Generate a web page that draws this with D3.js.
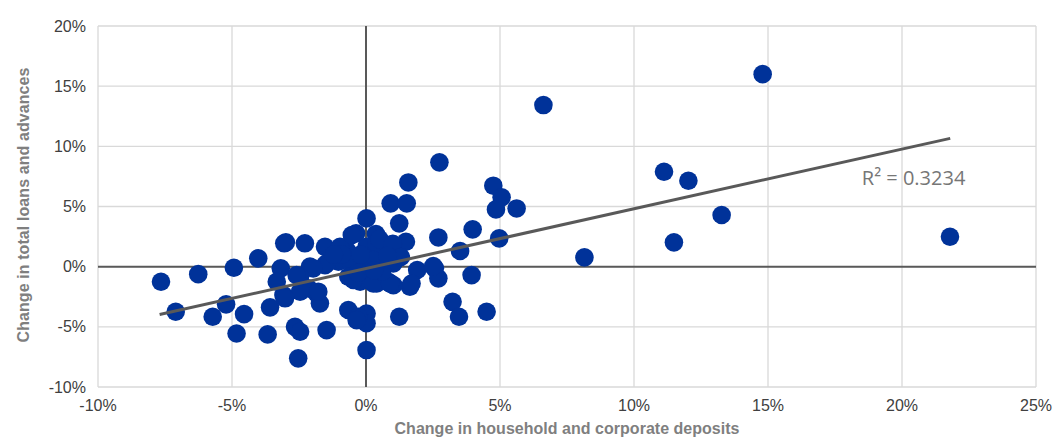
<!DOCTYPE html>
<html>
<head>
<meta charset="utf-8">
<script src="https://cdn.jsdelivr.net/npm/d3@7"></script>
<style>
  body { margin: 0; background: #fff; }
  svg text { font-family: "Liberation Sans", Arial, sans-serif; }
</style>
</head>
<body>
<svg class="scatter" width="1055" height="439"></svg>
<script>
// deposits change (%) vs loans change (%)
const depositChange = [
  14.8, 6.62, 11.12, 12.03, 13.27, 11.49, 8.15, 21.79, 5.62,
  2.74, 1.58, 0.92, 1.52, 4.75, 5.06, 4.85,
  0.02, 1.24, 1.49, 2.7, 3.98, 4.97, 3.51,
  1.91, 2.57, 2.7, 1.64, 3.94, 3.23, 3.47, 4.5, 1.24, 0.02, 0.02, 0.9,
  -7.65, -7.1, -6.26, -4.93, -4.02, -5.22, -5.72, -4.55, -4.83, -3.67, -3.05, -3.18, -3.33, -3.08, -3.58,
  -0.37, 0.37, -2.99, -2.28, -1.53, -0.72, 0.02, 0.71, 0.4, -0.97, -0.53,
  -2.09, -1.53, -1.03, -0.53, 0.02, 0.52, 1.02, 2.51, 0.27, -1.47, -1.97,
  -2.46, -2.15, -1.84, -1.72, -0.66, -0.22, 0.34, 0.83, -0.47, 0.4, 1.02, 1.7, 0.27, 0.9, -2.59,
  -0.66, -0.29, -2.65, -2.46, -1.47, -2.53, 0.02, -2.46, -1.78, -3.02, -0.35,
  0.5, 1.0, 0.6, -0.3, 1.3, -0.9, -0.2, 0.8, 0.3, -1.2
];
const loanChange = [
  16.0, 13.43, 7.89, 7.14, 4.29, 2.02, 0.77, 2.49, 4.84,
  8.67, 7.0, 5.26, 5.26, 6.73, 5.76, 4.76,
  4.01, 3.6, 2.07, 2.43, 3.1, 2.35, 1.3,
  -0.28, -0.14, -0.97, -1.67, -0.7, -2.92, -4.16, -3.75, -4.16, -3.9, -4.7, -1.4,
  -1.25, -3.75, -0.62, -0.09, 0.69, -3.13, -4.16, -3.94, -5.55, -5.63, 1.94, -0.14, -1.25, -2.36, -3.38,
  2.77, 2.71, 2.02, 1.94, 1.65, 1.38, 1.65, 1.38, 1.94, 1.65, 2.63,
  0, 0.13, 0.41, 0.27, 0.41, 0.41, 0.27, 0.05, 0.55, 0.27, -0.14,
  -0.84, -1.8, -2.22, -3.05, -0.84, -1.25, -1.11, -1.25, -1.1, -1.4, -1.53, -1.4, -1.39, -1.39, -0.7,
  -3.6, -4.16, -5.0, -5.41, -5.27, -7.62, -6.93, -2.08, -2.08, -2.63, -4.44,
  2.3, 1.9, -0.4, -0.5, 0.8, 1.0, 1.0, 0.9, -0.3, 1.0
];

const xTicks = [-10, -5, 0, 5, 10, 15, 20, 25];
const yTicks = [-10, -5, 0, 5, 10, 15, 20];

// linear trend as shown on the chart
const trendSlope = 0.496;
const trendIntercept = -0.15;
const trendRange = [-7.7, 21.8];
const rSquared = "0.3234";

const points = depositChange.map((d, i) => ({ x: d, y: loanChange[i] }));

const svg = d3.select("svg.scatter");

const x = d3.scaleLinear().domain([-10, 25]).range([98, 1036]);
const y = d3.scaleLinear().domain([-10, 20]).range([387, 26]);

// gridlines
svg.append("g")
  .selectAll("line")
  .data(xTicks)
  .join("line")
    .attr("x1", d => x(d)).attr("x2", d => x(d))
    .attr("y1", y(20)).attr("y2", y(-10))
    .attr("stroke", "#d9d9d9").attr("stroke-width", 1.3);

svg.append("g")
  .selectAll("line")
  .data(yTicks)
  .join("line")
    .attr("x1", x(-10)).attr("x2", x(25))
    .attr("y1", d => y(d)).attr("y2", d => y(d))
    .attr("stroke", "#d9d9d9").attr("stroke-width", 1.3);

// zero axes
svg.append("line")
  .attr("x1", x(-10)).attr("x2", x(25))
  .attr("y1", y(0)).attr("y2", y(0))
  .attr("stroke", "#595959").attr("stroke-width", 2);
svg.append("line")
  .attr("x1", x(0)).attr("x2", x(0))
  .attr("y1", y(20)).attr("y2", y(-10))
  .attr("stroke", "#595959").attr("stroke-width", 2);

// tick labels
const fmt = d => d + "%";
svg.append("g")
  .selectAll("text")
  .data(yTicks)
  .join("text")
    .attr("x", 86)
    .attr("y", d => y(d) + 5.5)
    .attr("text-anchor", "end")
    .attr("font-size", 16)
    .attr("fill", "#404040")
    .text(fmt);

svg.append("g")
  .selectAll("text")
  .data(xTicks)
  .join("text")
    .attr("x", d => x(d))
    .attr("y", 411)
    .attr("text-anchor", "middle")
    .attr("font-size", 16)
    .attr("fill", "#404040")
    .text(fmt);

// points
svg.append("g")
  .selectAll("circle")
  .data(points)
  .join("circle")
    .attr("cx", d => x(d.x))
    .attr("cy", d => y(d.y))
    .attr("r", 9.3)
    .attr("fill", "#003299");

// trend line
const trend = d3.line()
  .x(d => x(d))
  .y(d => y(trendSlope * d + trendIntercept));
svg.append("path")
  .datum(trendRange)
  .attr("d", trend)
  .attr("fill", "none")
  .attr("stroke", "#595959")
  .attr("stroke-width", 3);

svg.append("text")
  .attr("x", x(18.5))
  .attr("y", y(6.8))
  .attr("font-size", 20)
  .attr("fill", "#767676")
  .style("font-family", "'Open Sans', sans-serif")
  .text("R² = " + rSquared);

// axis titles
svg.append("text")
  .attr("x", 567)
  .attr("y", 434)
  .attr("text-anchor", "middle")
  .attr("font-size", 16)
  .attr("font-weight", "bold")
  .attr("fill", "#7f7f7f")
  .attr("textLength", 345)
  .text("Change in household and corporate deposits");

svg.append("text")
  .attr("transform", "translate(29,205) rotate(-90)")
  .attr("text-anchor", "middle")
  .attr("font-size", 16)
  .attr("font-weight", "bold")
  .attr("fill", "#7f7f7f")
  .attr("textLength", 275)
  .text("Change in total loans and advances");
</script>
</body>
</html>
